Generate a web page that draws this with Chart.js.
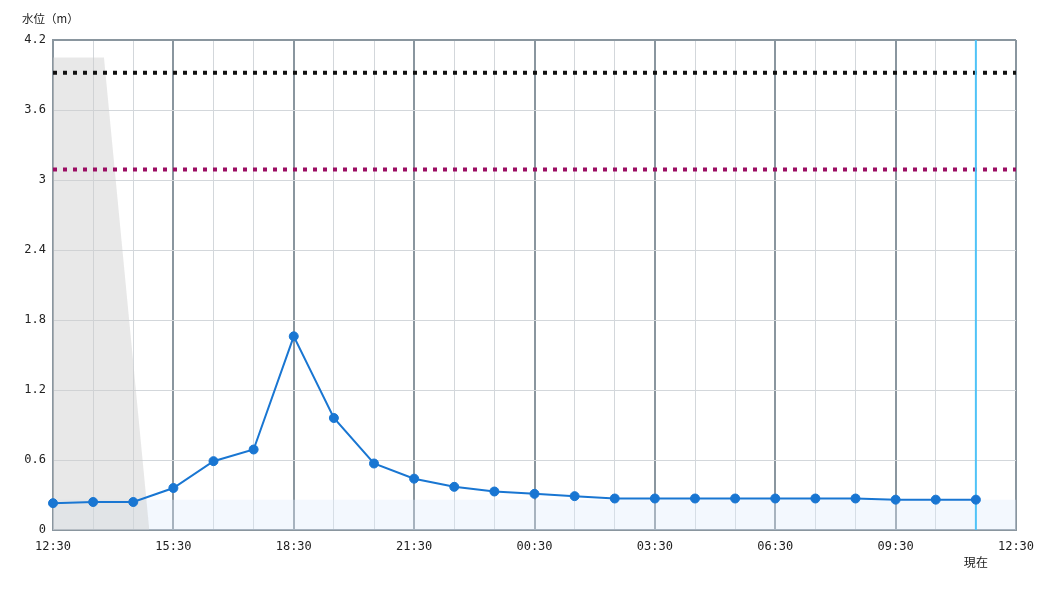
<!DOCTYPE html>
<html>
<head>
<meta charset="utf-8">
<script src="https://cdn.jsdelivr.net/npm/chart.js@4/dist/chart.umd.min.js"></script>
<style>
  html, body { margin: 0; padding: 0; background: #fff; }
  #wrap { width: 1050px; height: 600px; }
</style>
</head>
<body>
<div id="wrap"><canvas id="c" width="1050" height="600"></canvas></div>
<script>
// hours since 12:30, one point per hour up to "now" (11:30)
var hours = [0, 1, 2, 3, 4, 5, 6, 7, 8, 9, 10, 11, 12, 13, 14, 15, 16, 17, 18, 19, 20, 21, 22, 23];
var level = [0.23, 0.24, 0.24, 0.36, 0.59, 0.69, 1.66, 0.96, 0.57, 0.44, 0.37, 0.33, 0.31, 0.29, 0.27, 0.27, 0.27, 0.27, 0.27, 0.27, 0.27, 0.26, 0.26, 0.26];
var timeLabels = ['12:30', '15:30', '18:30', '21:30', '00:30', '03:30', '06:30', '09:30', '12:30'];
var yTicks = [0, 0.6, 1.2, 1.8, 2.4, 3, 3.6, 4.2];
var warnLevel = 3.92;
var alertLevel = 3.09;
var baseLevel = 0.26;
var greyX = [0, 1.27, 2.4];
var greyY = [4.05, 4.05, 0];
var nowHour = 23;

var mono = "'DejaVu Sans Mono', monospace";

function pts(xs, ys) {
  return xs.map(function (x, i) { return { x: x, y: ys[i] }; });
}

var textPlugin = {
  id: 'texts',
  afterDraw: function (chart) {
    var ctx = chart.ctx;
    var xs = chart.scales.x;
    ctx.save();
    ctx.fillStyle = '#222';
    ctx.font = "11.5px 'Noto Sans CJK JP', " + mono;
    ctx.textBaseline = 'middle';
    ctx.textAlign = 'left';
    ctx.fillText('水位（m）', 22, 19);
    ctx.font = "12px 'Noto Sans CJK JP', " + mono;
    ctx.textAlign = 'center';
    ctx.fillText('現在', xs.getPixelForValue(nowHour), 562);
    ctx.restore();
  }
};

new Chart(document.getElementById('c'), {
  type: 'line',
  data: {
    datasets: [
      {
        data: pts(hours, level),
        borderColor: '#1976d2',
        backgroundColor: '#1976d2',
        borderWidth: 2,
        pointRadius: 4.5,
        pointBorderWidth: 1,
        pointHoverRadius: 4.5,
        fill: false,
        clip: 8,
        order: 0
      },
      {
        data: pts([nowHour, nowHour], [0, 4.2]),
        borderColor: '#4fc3f7',
        borderWidth: 2,
        pointRadius: 0,
        fill: false,
        order: 1
      },
      {
        data: pts([0, 24], [warnLevel, warnLevel]),
        borderColor: '#111',
        borderWidth: 4,
        borderDash: [4, 6],
        pointRadius: 0,
        fill: false,
        order: 2
      },
      {
        data: pts([0, 24], [alertLevel, alertLevel]),
        borderColor: '#9b0d63',
        borderWidth: 4,
        borderDash: [4, 6],
        pointRadius: 0,
        fill: false,
        order: 3
      },
      {
        data: pts(greyX, greyY),
        borderWidth: 0,
        borderColor: 'rgba(0,0,0,0)',
        backgroundColor: 'rgba(205,205,205,0.45)',
        pointRadius: 0,
        fill: 'origin',
        order: 4
      },
      {
        data: pts([0, 24], [baseLevel, baseLevel]),
        borderWidth: 0,
        borderColor: 'rgba(0,0,0,0)',
        backgroundColor: 'rgba(220,236,252,0.35)',
        pointRadius: 0,
        fill: 'origin',
        order: 5
      }
    ]
  },
  options: {
    responsive: false,
    animation: false,
    layout: { padding: { top: 40, right: 34, left: 0, bottom: 0 } },
    plugins: {
      legend: { display: false },
      tooltip: { enabled: false }
    },
    scales: {
      x: {
        type: 'linear',
        min: 0,
        max: 24,
        afterFit: function (s) { s.height = 70; },
        afterBuildTicks: function (s) {
          var t = [];
          for (var i = 0; i <= 24; i++) t.push({ value: i });
          s.ticks = t;
        },
        ticks: {
          autoSkip: false,
          maxRotation: 0,
          padding: 10,
          color: '#222',
          font: { family: mono, size: 12 },
          callback: function (v) { return v % 3 === 0 ? timeLabels[v / 3] : ''; }
        },
        grid: {
          drawTicks: false,
          color: function (c) { return c.tick && c.tick.value % 3 === 0 ? '#8a969f' : '#d3d7db'; },
          lineWidth: function (c) { return c.tick && c.tick.value % 3 === 0 ? 2 : 1; }
        },
        border: { color: '#8a969f', width: 2 }
      },
      y: {
        min: 0,
        max: 4.2,
        afterFit: function (s) { s.width = 53; },
        afterBuildTicks: function (s) {
          s.ticks = yTicks.map(function (v) { return { value: v }; });
        },
        ticks: {
          padding: 7,
          color: '#222',
          font: { family: mono, size: 12 },
          callback: function (v) { return String(v); }
        },
        grid: {
          drawTicks: false,
          color: function (c) { return c.tick && c.tick.value === 4.2 ? '#8a969f' : '#d3d7db'; },
          lineWidth: function (c) { return c.tick && c.tick.value === 4.2 ? 2 : 1; }
        },
        border: { color: '#8a969f', width: 2 }
      }
    }
  },
  plugins: [textPlugin]
});
</script>
</body>
</html>
